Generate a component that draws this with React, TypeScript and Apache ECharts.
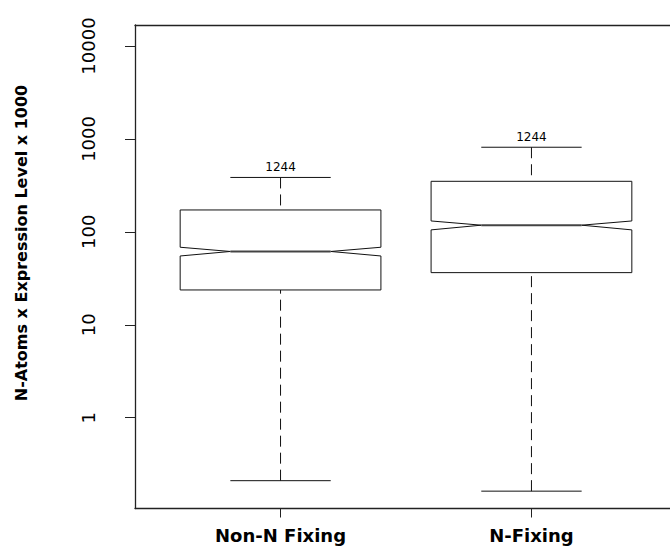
import React, { useEffect, useRef } from "react";
import * as echarts from "echarts";

// ---- data ----
const categories = ["Non-N Fixing", "N-Fixing"];
const lowerWhisker = [0.21, 0.162];
const q1Values = [23.7, 36.4];
const notchLow = [55.0, 105];
const medians = [61.5, 118];
const notchHigh = [68.3, 131];
const q3Values = [172, 350];
const upperWhisker = [385, 814];
const counts = [1244, 1244];
const yTickValues = [1, 10, 100, 1000, 10000];

const Y_MIN = 0.1054;
const Y_MAX = 16830;
const X_MIN = 0.42;
const X_MAX = 2.58;
const BOX_HALF = 0.4;
const NOTCH_FRAC = 0.5;
const CAP_HALF = 0.2;

const FONT = "DejaVu Sans";
const LINE = "#111";
const FRAME = { color: "#222", width: 1.3 };

export default function App() {
  const ref = useRef<HTMLDivElement>(null);
  useEffect(() => {
    if (!ref.current) return;
    const chart = echarts.init(ref.current, null, { renderer: "svg" });
    const data = categories.map((_, i) => [
      i + 1,
      lowerWhisker[i],
      q1Values[i],
      notchLow[i],
      medians[i],
      notchHigh[i],
      q3Values[i],
      upperWhisker[i],
      counts[i],
    ]);
    const option: any = {
      animation: false,
      backgroundColor: "#fff",
      grid: {
        left: 135,
        top: 25,
        width: 542,
        height: 483.5,
        outerBoundsMode: "none",
        containLabel: false,
        show: false,
      },
      xAxis: [
        {
          type: "value",
          position: "bottom",
          min: X_MIN,
          max: X_MAX,
          axisLine: { show: true, onZero: false, lineStyle: FRAME },
          splitLine: { show: false },
          axisTick: {
            show: true,
            customValues: [1, 2],
            length: 9,
            lineStyle: { color: "#222", width: 1 },
          },
          axisLabel: {
            show: true,
            customValues: [1, 2],
            formatter: (v: number) => categories[Math.round(v) - 1] ?? "",
            fontFamily: FONT,
            fontWeight: "bold",
            fontSize: 18,
            color: "#000",
            margin: 18,
          },
        },
        {
          type: "value",
          position: "top",
          min: X_MIN,
          max: X_MAX,
          axisLine: { show: true, onZero: false, lineStyle: FRAME },
          splitLine: { show: false },
          axisTick: { show: false },
          axisLabel: { show: false },
        },
      ],
      yAxis: {
        type: "log",
        logBase: 10,
        min: Y_MIN,
        max: Y_MAX,
        axisLine: { show: true, onZero: false, lineStyle: FRAME },
        splitLine: { show: false },
        axisTick: {
          show: true,
          customValues: yTickValues,
          length: 10,
          lineStyle: { color: "#222", width: 1 },
        },
        axisLabel: {
          show: true,
          customValues: yTickValues,
          formatter: (v: number) => String(Math.round(v)),
          rotate: 90,
          fontFamily: FONT,
          fontSize: 18,
          color: "#000",
          margin: 38,
        },
      },
      graphic: [
        {
          type: "text",
          x: 21,
          y: 243,
          rotation: Math.PI / 2,
          style: {
            text: "N-Atoms x Expression Level x 1000",
            font: `bold 16px "${FONT}"`,
            fill: "#000",
            align: "center",
            verticalAlign: "middle",
          },
        },
      ],
      series: [
        {
          type: "custom",
          coordinateSystem: "cartesian2d",
          xAxisIndex: 0,
          yAxisIndex: 0,
          data,
          encode: { x: 0, y: [1, 2, 3, 4, 5, 6, 7] },
          clip: false,
          renderItem: (params: any, api: any) => {
            const x = api.value(0);
            const lo = api.value(1);
            const q1 = api.value(2);
            const nl = api.value(3);
            const med = api.value(4);
            const nh = api.value(5);
            const q3 = api.value(6);
            const hi = api.value(7);
            const n = api.value(8);
            const px = (v: number) => api.coord([v, med])[0];
            const py = (v: number) => api.coord([x, v])[1];
            const cx = px(x);
            const xl = px(x - BOX_HALF);
            const xr = px(x + BOX_HALF);
            const xnl = px(x - BOX_HALF * NOTCH_FRAC);
            const xnr = px(x + BOX_HALF * NOTCH_FRAC);
            const cl = px(x - CAP_HALF);
            const cr = px(x + CAP_HALF);
            const yLo = py(lo);
            const yQ1 = py(q1);
            const yNl = py(nl);
            const yMed = py(med);
            const yNh = py(nh);
            const yQ3 = py(q3);
            const yHi = py(hi);
            const lineStyle = { stroke: LINE, lineWidth: 1, fill: null };
            const dashStyle = { stroke: LINE, lineWidth: 1, lineDash: [11, 6] };
            return {
              type: "group",
              children: [
                { type: "line", shape: { x1: cx, y1: yHi, x2: cx, y2: yQ3 }, style: dashStyle },
                { type: "line", shape: { x1: cx, y1: yLo, x2: cx, y2: yQ1 }, style: dashStyle },
                { type: "line", shape: { x1: cl, y1: yHi, x2: cr, y2: yHi }, style: lineStyle },
                { type: "line", shape: { x1: cl, y1: yLo, x2: cr, y2: yLo }, style: lineStyle },
                {
                  type: "polygon",
                  shape: {
                    points: [
                      [xl, yQ1], [xr, yQ1], [xr, yNl], [xnr, yMed], [xr, yNh],
                      [xr, yQ3], [xl, yQ3], [xl, yNh], [xnl, yMed], [xl, yNl],
                    ],
                  },
                  style: { fill: "#fff", stroke: LINE, lineWidth: 1 },
                },
                { type: "line", shape: { x1: xnl, y1: yMed, x2: xnr, y2: yMed }, style: { stroke: "#444", lineWidth: 2 } },
                {
                  type: "text",
                  x: cx,
                  y: yHi - 10,
                  style: {
                    text: String(n),
                    font: `12px "${FONT}"`,
                    fill: "#000",
                    align: "center",
                    verticalAlign: "middle",
                  },
                },
              ],
            };
          },
        },
      ],
    };
    chart.setOption(option);
    return () => chart.dispose();
  }, []);
  return (
    <div
      ref={ref}
      style={{ position: "absolute", left: 0, top: 0, width: 670, height: 552 }}
    />
  );
}
